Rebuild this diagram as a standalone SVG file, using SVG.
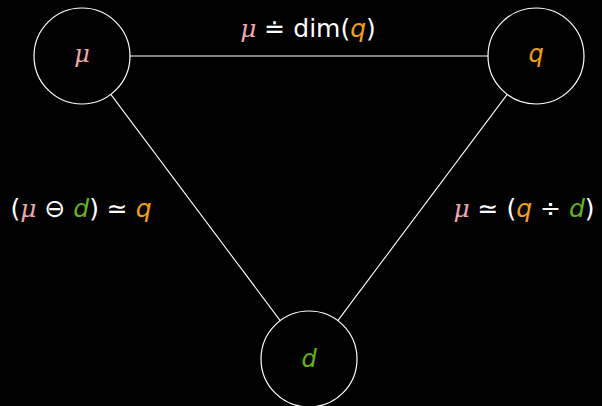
<svg xmlns="http://www.w3.org/2000/svg" width="602" height="406" viewBox="0 0 602 406">
<style>
.node{fill:none;stroke:#ffffff;stroke-width:1.2}
.edge{stroke:#ffffff;stroke-width:1.1;fill:none}
text{font-family:"DejaVu Sans","Liberation Sans",sans-serif;font-size:25px;fill:#ffffff}
.v{font-style:italic}
.mu{fill:#f0a8a8;font-family:"DejaVu Serif","Liberation Serif",serif;font-style:italic}
.q{fill:#f5a00f}
.d{fill:#66b414}
</style>
<rect width="602" height="406" fill="#000000"/>
<g id="connectors">
<line class="edge" x1="130" y1="56" x2="488" y2="56"/>
<line class="edge" x1="110.8" y1="94.4" x2="280.2" y2="320.6"/>
<line class="edge" x1="507.2" y1="94.4" x2="337.8" y2="320.6"/>
</g>
<g id="node-mu">
<circle class="node" cx="82" cy="56" r="48"/>
<text x="82" y="62" text-anchor="middle" class="mu" style="font-size:24px">μ</text>
</g>
<g id="node-q">
<circle class="node" cx="536" cy="56" r="48"/>
<text x="536" y="62" text-anchor="middle" class="v q" style="font-size:24px">q</text>
</g>
<g id="node-d">
<circle class="node" cx="309" cy="359" r="48"/>
<text x="309" y="367" text-anchor="middle" class="v d" style="font-size:24px">d</text>
</g>
<g id="label-top">
<text x="308" y="37" text-anchor="middle"><tspan class="mu">μ</tspan> ≐ dim(<tspan class="v q">q</tspan>)</text>
</g>
<g id="label-left">
<text x="81" y="217" text-anchor="middle">(<tspan class="mu">μ</tspan> ⊖ <tspan class="v d">d</tspan>) ≃ <tspan class="v q">q</tspan></text>
</g>
<g id="label-right">
<text x="524" y="217" text-anchor="middle"><tspan class="mu">μ</tspan> ≃ (<tspan class="v q">q</tspan> ÷ <tspan class="v d">d</tspan>)</text>
</g>
</svg>
